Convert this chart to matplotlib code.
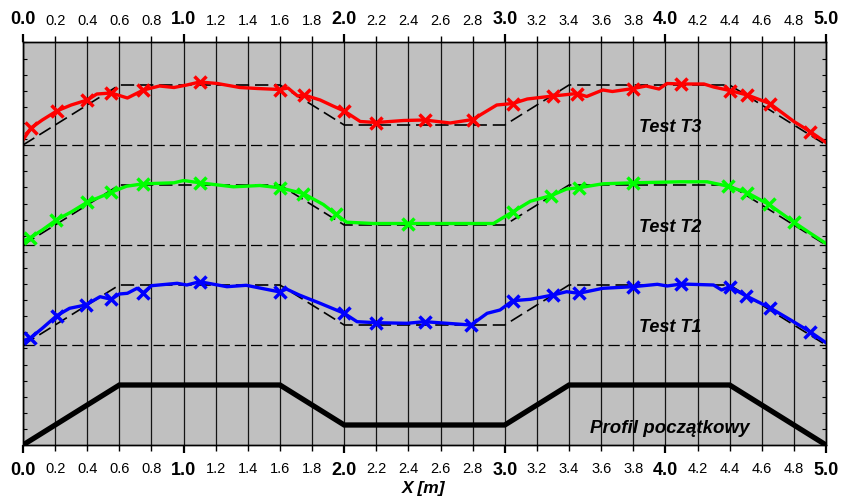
import numpy as np
import matplotlib.pyplot as plt
from matplotlib.ticker import FixedLocator

plt.rcParams['font.family'] = ['Liberation Sans', 'DejaVu Sans']

# initial profile (relative heights)
prof_x = [0.0, 0.6, 1.6, 2.0, 3.0, 3.4, 4.4, 5.0]
prof_h = [0.0, 0.6, 0.6, 0.2, 0.2, 0.6, 0.6, 0.0]

# Test T1 (blue), heights above its baseline
t1_x = [0.0, 0.044, 0.12, 0.21, 0.29, 0.39, 0.48, 0.55, 0.60, 0.65, 0.71, 0.75, 0.80,
        0.96, 1.02, 1.10, 1.27, 1.39, 1.60, 1.64, 1.72, 1.85, 2.00, 2.08, 2.20, 2.39,
        2.50, 2.64, 2.79, 2.89, 2.97, 3.05, 3.16, 3.30, 3.385, 3.46, 3.61, 3.80, 3.95,
        4.01, 4.10, 4.30, 4.35, 4.40, 4.50, 4.65, 4.78, 4.90, 5.00]
t1_h = [0.043, 0.067, 0.167, 0.293, 0.367, 0.40, 0.483, 0.457, 0.51, 0.517, 0.567, 0.523, 0.593,
        0.617, 0.60, 0.633, 0.583, 0.597, 0.53, 0.56, 0.50, 0.417, 0.317, 0.233, 0.223, 0.217,
        0.233, 0.217, 0.20, 0.317, 0.35, 0.443, 0.457, 0.50, 0.533, 0.517, 0.567, 0.583, 0.607,
        0.59, 0.61, 0.60, 0.55, 0.583, 0.493, 0.373, 0.25, 0.133, 0.023]
t1_mark = [0.044, 0.21, 0.39, 0.55, 0.75, 1.10, 1.60, 2.00, 2.20, 2.50, 2.79, 3.05, 3.30,
           3.46, 3.80, 4.10, 4.40, 4.50, 4.65, 4.90]

# Test T2 (green)
t2_x = [0.0, 0.044, 0.12, 0.205, 0.30, 0.40, 0.48, 0.55, 0.645, 0.75, 0.94, 1.00, 1.10,
        1.31, 1.475, 1.60, 1.745, 1.87, 1.95, 2.015, 2.18, 2.40, 2.93, 2.97, 3.05, 3.16,
        3.29, 3.385, 3.46, 3.61, 3.80, 4.09, 4.26, 4.39, 4.51, 4.645, 4.80, 4.90, 5.00]
t2_h = [0.038, 0.072, 0.15, 0.248, 0.33, 0.428, 0.48, 0.528, 0.588, 0.612, 0.622, 0.645, 0.622,
        0.582, 0.595, 0.572, 0.515, 0.405, 0.305, 0.228, 0.215, 0.215, 0.215, 0.255, 0.332, 0.438,
        0.495, 0.56, 0.572, 0.612, 0.622, 0.632, 0.632, 0.588, 0.522, 0.405, 0.228, 0.12, 0.015]
t2_mark = [0.044, 0.205, 0.40, 0.55, 0.75, 1.10, 1.60, 1.745, 1.95, 2.40, 3.05, 3.29, 3.46,
           3.80, 4.39, 4.51, 4.645, 4.80]

# Test T3 (red)
t3_x = [0.0, 0.05, 0.12, 0.21, 0.30, 0.40, 0.46, 0.55, 0.65, 0.75, 0.85, 0.94, 1.02, 1.10,
        1.21, 1.35, 1.46, 1.60, 1.65, 1.71, 1.75, 1.85, 1.93, 2.00, 2.10, 2.20, 2.37, 2.50,
        2.66, 2.80, 2.95, 3.05, 3.14, 3.30, 3.45, 3.51, 3.61, 3.67, 3.80, 3.88, 3.96, 4.01,
        4.10, 4.24, 4.30, 4.40, 4.51, 4.65, 4.80, 4.90, 5.00]
t3_h = [0.05, 0.17, 0.25, 0.34, 0.40, 0.45, 0.51, 0.52, 0.47, 0.55, 0.59, 0.575, 0.60, 0.63,
        0.615, 0.575, 0.565, 0.555, 0.57, 0.49, 0.50, 0.45, 0.39, 0.34, 0.235, 0.225, 0.245, 0.25,
        0.22, 0.255, 0.40, 0.415, 0.46, 0.49, 0.515, 0.485, 0.55, 0.535, 0.565, 0.59, 0.56, 0.615,
        0.61, 0.61, 0.58, 0.545, 0.50, 0.415, 0.235, 0.135, 0.025]
t3_mark = [0.05, 0.21, 0.40, 0.55, 0.75, 1.10, 1.60, 1.75, 2.00, 2.20, 2.50, 2.80, 3.05, 3.30,
           3.45, 3.80, 4.10, 4.40, 4.51, 4.65, 4.90]

tests = [
    ('Test T1', 1.0, t1_x, t1_h, t1_mark, '#0000ff'),
    ('Test T2', 2.0, t2_x, t2_h, t2_mark, '#00ff00'),
    ('Test T3', 3.0, t3_x, t3_h, t3_mark, '#ff0000'),
]

minor_x = [round(0.2 * i, 1) for i in range(26) if i % 5 != 0]
major_x = [0.0, 1.0, 2.0, 3.0, 4.0, 5.0]

fig = plt.figure(figsize=(8.41, 5.04), dpi=100)
ax = fig.add_axes([23 / 841, 59 / 504, 803 / 841, 403 / 504])
ax.set_facecolor('#c0c0c0')
ax.set_xlim(0, 5)
ax.set_ylim(0, 4.03)

for xv in minor_x + major_x:
    ax.axvline(xv, color='#141414', lw=0.9, zorder=1)

# initial profile
ax.plot(prof_x, prof_h, color='black', lw=3.8, solid_joinstyle='miter', zorder=3)
ax.text(4.03, 0.165, 'Profil początkowy', ha='center', va='center',
        fontsize=13.5, fontweight='bold', style='italic', zorder=5)

for name, off, xs, hs, marks, col in tests:
    ax.axhline(off, color='black', lw=0.9, dashes=(9, 4), zorder=2)
    ax.plot(prof_x, np.array(prof_h) + off, color='black', lw=1.2, dashes=(8, 3.5), zorder=2)
    idx = [i for i, xv in enumerate(xs) if xv in marks]
    ax.plot(xs, np.array(hs) + off, color=col, lw=2.4, marker='x', markevery=idx,
            ms=9, mew=2.5, zorder=4)
    ax.text(4.03, off + 0.18, name, ha='center', va='center',
            fontsize=13, fontweight='bold', style='italic', zorder=5)

# y ticks (no labels), inward on both sides
ax.set_yticks(np.arange(0, 4.03, 0.161))
ax.set_yticklabels([])
ax.tick_params(axis='y', which='major', direction='in', length=3, width=0.8,
               left=True, right=True, color='black')

# bottom x ticks
ax.xaxis.set_major_locator(FixedLocator(major_x))
ax.xaxis.set_minor_locator(FixedLocator(minor_x))
ax.set_xticklabels(['%.1f' % v for v in major_x], fontsize=13, fontweight='bold')
ax.set_xticklabels(['%.1f' % v for v in minor_x], minor=True, fontsize=10.5)
ax.tick_params(axis='x', which='major', direction='out', length=6, width=1.6, pad=6)
ax.tick_params(axis='x', which='minor', direction='out', length=4, width=1.0, pad=8)

# top x ticks
ax2 = ax.twiny()
ax2.set_xlim(0, 5)
ax2.xaxis.set_major_locator(FixedLocator(major_x))
ax2.xaxis.set_minor_locator(FixedLocator(minor_x))
ax2.set_xticklabels(['%.1f' % v for v in major_x], fontsize=13, fontweight='bold')
ax2.set_xticklabels(['%.1f' % v for v in minor_x], minor=True, fontsize=10.5)
ax2.tick_params(axis='x', which='major', direction='out', length=6, width=1.6, pad=4)
ax2.tick_params(axis='x', which='minor', direction='out', length=4, width=1.0, pad=6)

for a in (ax, ax2):
    for s in a.spines.values():
        s.set_color('black')
        s.set_linewidth(1.0)

fig.text(424 / 841, 1 - 489 / 504, 'X [m]', ha='center', va='center',
         fontsize=12.5, fontweight='bold', style='italic')

fig.savefig('out.png', dpi=100)
